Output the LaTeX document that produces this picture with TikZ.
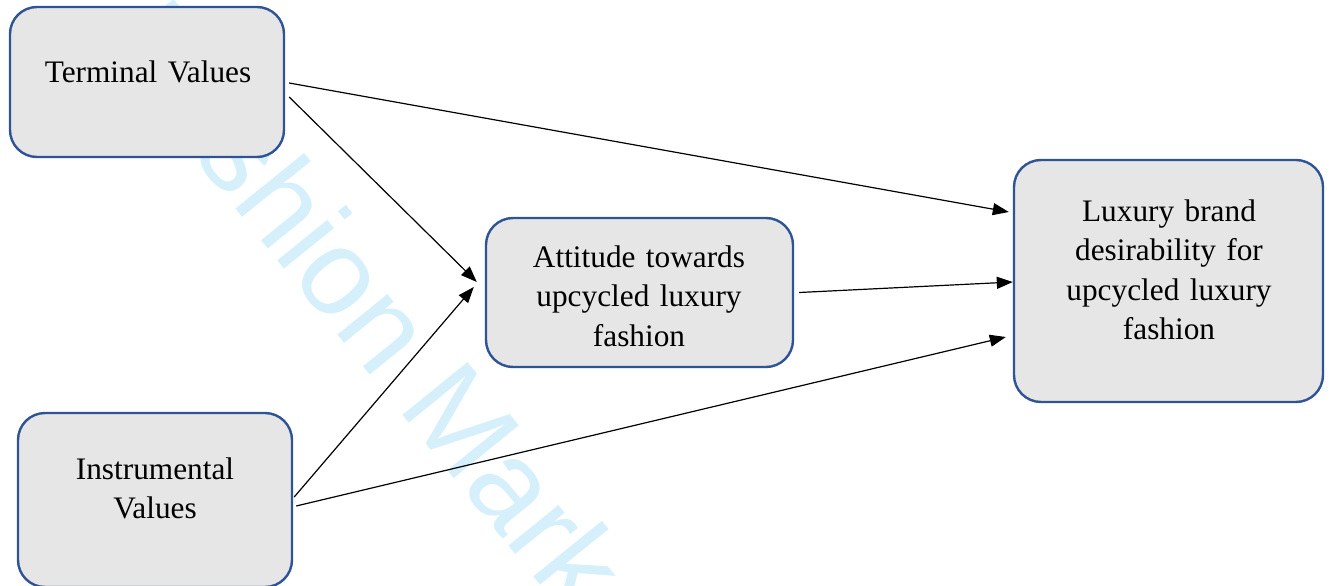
\documentclass[tikz,border=0pt]{standalone}
\usepackage{fontspec}
\setmainfont{Liberation Serif}
\newfontfamily\wmfamily{Liberation Sans}
\usetikzlibrary{arrows.meta}

\definecolor{boxline}{RGB}{47,84,150}
\definecolor{boxfill}{RGB}{230,230,230}
\definecolor{wmblue}{RGB}{214,240,251}

\tikzset{
  box/.style={draw=boxline, fill=boxfill, line width=2.4pt, rounded corners=27pt,
    inner sep=0pt, minimum width=#1},
  label/.style={text width=310pt, align=center, inner sep=0pt, anchor=base,
    font=\fontsize{31.3}{39.5}\selectfont},
  link/.style={line width=1.2pt, -{Triangle[length=16pt,width=12pt]}},
  mark/.style={}
}

\begin{document}
\begin{tikzpicture}[x=1pt,y=-1pt]
\useasboundingbox (0,0) rectangle (1331,586);

% faint diagonal watermark behind the figure
\begin{scope}
  \clip (0,0) rectangle (1331,586);
  \node[rotate=-51, anchor=base west, inner sep=0pt, text=wmblue,
        font=\wmfamily\fontsize{122}{122}\selectfont] (wm) at (102,44) {Fashion Marketing};
\end{scope}

% boxes
\node[box=274pt, minimum height=150pt] (T) at (147,82) {};
\node[box=274pt, minimum height=174pt] (I) at (155,500) {};
\node[box=307pt, minimum height=149pt] (A) at (639.5,292.5) {};
\node[box=309pt, minimum height=242pt] (L) at (1168.5,281) {};

% box texts
\node[label] (Tt) at (148,82) {Terminal Values};
\node[label] (It) at (155,479) {Instrumental\\Values};
\node[label] (At) at (639,267) {Attitude towards\\upcycled luxury\\fashion};
\node[label] (Lt) at (1169,221) {Luxury brand\\desirability for\\upcycled luxury\\fashion};

% paths
\draw[link] ([shift={(4,1)}]T.east) -- ([shift={(-4,-69)}]L.west);
\draw[link] ([shift={(4,15)}]T.east) -- ([shift={(-8,-10.5)}]A.west);
\draw[link] ([shift={(1,-3)}]I.east) -- ([shift={(-11,-5.5)}]A.west);
\draw[link] ([shift={(3,6)}]I.east) -- ([shift={(-7,56)}]L.west);
\draw[link] ([shift={(5,0)}]A.east) -- ([shift={(0,1)}]L.west);
\end{tikzpicture}
\end{document}
